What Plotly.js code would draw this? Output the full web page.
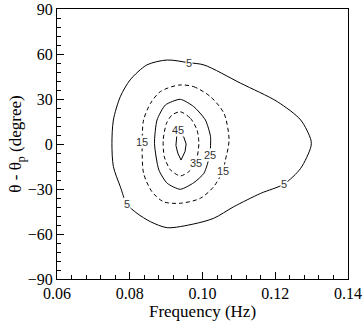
<!DOCTYPE html>
<html>
<head>
<meta charset="utf-8">
<script src="https://cdn.plot.ly/plotly-3.0.1.min.js"></script>
<style>html,body{margin:0;padding:0;background:#fff;}#chart{width:363px;height:322px;}</style>
</head>
<body>
<div id="chart"></div>
<script>
// Contour level 5 (solid)
const c5Freq = [0.0903, 0.0962, 0.1004, 0.1105, 0.1206, 0.1270, 0.1298, 0.1298, 0.1270, 0.1224, 0.1160, 0.1086, 0.1031, 0.0976, 0.0903, 0.0857, 0.0820, 0.0792, 0.0774, 0.0755, 0.0751, 0.0755, 0.0774, 0.0801, 0.0847, 0.0903];
const c5Theta = [56, 54.2, 52.7, 40.5, 28.2, 16, 2.7, -1.8, -16.2, -26.7, -32.9, -41.8, -49.5, -53.3, -55.8, -51.8, -46.2, -40, -28.4, -15.1, 0.4, 16, 31.5, 42.7, 52.7, 56];
// Contour level 15 (dashed)
const c15Freq = [0.0935, 0.0976, 0.1022, 0.1059, 0.1073, 0.1063, 0.1056, 0.1031, 0.0994, 0.0939, 0.0893, 0.0861, 0.0838, 0.0834, 0.0834, 0.0838, 0.0857, 0.0884, 0.0935];
const c15Theta = [39.3, 38.2, 31.5, 20.4, 2.7, -10.7, -17.8, -28.4, -36.2, -39.5, -38.5, -31.8, -19.5, -4, 1.1, 16, 27.1, 34.9, 39.3];
// Contour level 25 (solid)
const c25Freq = [0.0939, 0.0976, 0.1008, 0.1022, 0.1020, 0.1004, 0.0976, 0.0939, 0.0903, 0.0880, 0.0868, 0.0875, 0.0898, 0.0939];
const c25Theta = [29.8, 24.9, 16, 4.9, -7.3, -19.5, -25.8, -30.2, -26.2, -17.3, 0.4, 16, 26, 29.8];
// Contour level 35 (dashed)
const c35Freq = [0.0939, 0.0967, 0.0985, 0.0990, 0.0981, 0.0962, 0.0939, 0.0912, 0.0895, 0.0892, 0.0901, 0.0916, 0.0939];
const c35Theta = [21.5, 17.1, 9.3, 0.4, -12.9, -18.5, -21.3, -17.3, -8.5, 2.7, 13.8, 19.3, 21.5];
// Contour level 45 (solid)
const c45Freq = [0.0930, 0.0948, 0.0955, 0.0952, 0.0941, 0.0932, 0.0927, 0.0928, 0.0930];
const c45Theta = [7.6, 5, 0, -5, -10.7, -6, -1, 4, 7.6];
// Contour labels
const labelText = ["5", "5", "5", "15", "15", "25", "35", "45"];
const labelFreq = [0.0962, 0.1224, 0.0792, 0.0834, 0.1056, 0.1020, 0.0981, 0.0932];
const labelTheta = [54.2, -26.7, -40, 1.1, -17.8, -7.3, -12.9, 9.5];
// Axis ticks
const xTicks = [0.06, 0.08, 0.10, 0.12, 0.14];
const xTickText = ["0.06", "0.08", "0.10", "0.12", "0.14"];
const yTicks = [-90, -60, -30, 0, 30, 60, 90];

function contour(x, y, dash, smooth) {
  return {
    type: 'scatter', mode: 'lines', x: x, y: y, hoverinfo: 'skip',
    line: {color: '#000', width: 1, dash: dash, shape: smooth ? 'spline' : 'linear', smoothing: smooth || 0}
  };
}
const data = [
  contour(c5Freq, c5Theta, 'solid', 0.8),
  contour(c15Freq, c15Theta, '4px,3px', 0.8),
  contour(c25Freq, c25Theta, 'solid', 0.6),
  contour(c35Freq, c35Theta, '4px,3px', 0.7),
  contour(c45Freq, c45Theta, 'solid', 0)
];
const sans = "'Liberation Sans'";
const serif = "'Liberation Serif'";
const annotations = labelText.map((t, i) => ({
  x: labelFreq[i], y: labelTheta[i], xref: 'x', yref: 'y', text: t, showarrow: false,
  font: {family: sans, size: 11, color: '#333'},
  bgcolor: '#fff', borderpad: 0
}));
const layout = {
  width: 363, height: 322,
  margin: {l: 57, r: 15, t: 9, b: 43},
  paper_bgcolor: '#fff', plot_bgcolor: '#fff',
  showlegend: false,
  font: {family: serif, color: '#000'},
  xaxis: {
    range: [0.06, 0.14], tickvals: xTicks, ticktext: xTickText,
    ticks: 'inside', ticklen: 7, tickwidth: 1, tickcolor: '#000',
    minor: {dtick: 0.004, ticks: 'inside', ticklen: 4, tickwidth: 1, tickcolor: '#000'},
    showline: true, linecolor: '#000', linewidth: 1, mirror: true,
    showgrid: false, zeroline: false,
    tickfont: {family: serif, size: 16, color: '#000'},
    title: {text: 'Frequency (Hz)', font: {family: serif, size: 17, color: '#000'}, standoff: 0}
  },
  yaxis: {
    range: [-90, 90], tickvals: yTicks,
    ticks: 'inside', ticklen: 7, tickwidth: 1, tickcolor: '#000',
    minor: {dtick: 6, ticks: 'inside', ticklen: 4, tickwidth: 1, tickcolor: '#000'},
    showline: true, linecolor: '#000', linewidth: 1, mirror: true,
    showgrid: false, zeroline: false,
    tickfont: {family: serif, size: 16, color: '#000'},
    title: {text: 'θ - θ<sub>p</sub> (degree)', font: {family: serif, size: 17, color: '#000'}, standoff: 1}
  },
  annotations: annotations
};
Plotly.newPlot('chart', data, layout, {staticPlot: true, displayModeBar: false});
</script>
</body>
</html>
